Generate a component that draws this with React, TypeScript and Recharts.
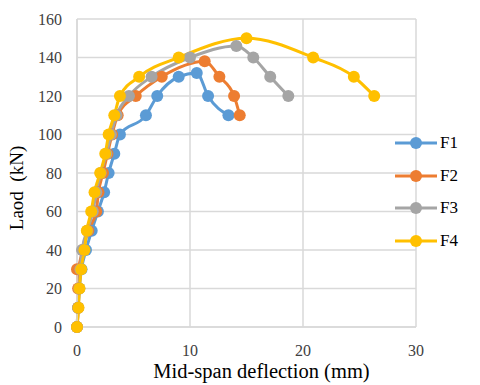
import React from 'react';
import { CartesianGrid, Label, Line, LineChart, XAxis, YAxis } from 'recharts';

// load steps (kN) and mid-span deflections (mm)
const F1_LOAD = [0, 10, 20, 30, 40, 50, 60, 70, 80, 90, 100, 110, 120, 130, 132, 120, 110];
const F1_DEFL = [0, 0.1, 0.2, 0.4, 0.8, 1.3, 1.85, 2.4, 2.8, 3.3, 3.8, 6.1, 7.1, 9.0, 10.6, 11.6, 13.4];

const F2_LOAD = [0, 10, 20, 30, 40, 50, 60, 70, 80, 90, 100, 110, 120, 130, 138, 130, 120, 110];
const F2_DEFL = [0, 0.1, 0.1, 0, 0.5, 1.0, 1.7, 1.9, 2.3, 2.7, 3.1, 3.6, 5.2, 7.5, 11.3, 12.6, 13.9, 14.4];

const F3_LOAD = [0, 10, 20, 30, 40, 50, 60, 70, 80, 90, 100, 110, 120, 130, 140, 146, 140, 130, 120];
const F3_DEFL = [0, 0.1, 0.2, 0.3, 0.45, 0.9, 1.4, 1.7, 2.1, 2.6, 3.0, 3.5, 4.6, 6.6, 10.0, 14.1, 15.6, 17.1, 18.7];

const F4_LOAD = [0, 10, 20, 30, 40, 50, 60, 70, 80, 90, 100, 110, 120, 130, 140, 150, 140, 130, 120];
const F4_DEFL = [0, 0.13, 0.22, 0.37, 0.66, 0.87, 1.26, 1.55, 2.05, 2.5, 2.8, 3.3, 3.8, 5.5, 9.0, 15.0, 20.9, 24.5, 26.3];

const X_TICKS = [0, 10, 20, 30];
const Y_TICKS = [0, 20, 40, 60, 80, 100, 120, 140, 160];

const toPoints = (defl: number[], load: number[]) => defl.map((x, i) => ({ x, y: load[i] }));

const SERIES = [
  { name: 'F1', color: '#5B9BD5', data: toPoints(F1_DEFL, F1_LOAD) },
  { name: 'F2', color: '#ED7D31', data: toPoints(F2_DEFL, F2_LOAD) },
  { name: 'F3', color: '#A5A5A5', data: toPoints(F3_DEFL, F3_LOAD) },
  { name: 'F4', color: '#FFC000', data: toPoints(F4_DEFL, F4_LOAD) },
];

const FONT = '"Liberation Serif", "Times New Roman", serif';

function XTick({ x, y, payload }: any) {
  return (
    <text x={x} y={y + 9} textAnchor="middle" dominantBaseline="central" fill="#404040" fontSize={16} fontFamily={FONT}>
      {payload.value}
    </text>
  );
}

function YTick({ x, y, payload }: any) {
  return (
    <text x={x} y={y} textAnchor="end" dominantBaseline="central" fill="#404040" fontSize={16} fontFamily={FONT}>
      {payload.value}
    </text>
  );
}

function LegendBox() {
  return (
    <div style={{ position: 'absolute', left: 394, top: 127, fontFamily: FONT, fontSize: 17, color: '#000' }}>
      {SERIES.map((s) => (
        <div key={s.name} style={{ display: 'flex', alignItems: 'center', height: 32.5 }}>
          <svg width={44} height={14}>
            <line x1={1} y1={7} x2={43} y2={7} stroke={s.color} strokeWidth={3} />
            <circle cx={22} cy={7} r={6} fill={s.color} />
          </svg>
          <span style={{ marginLeft: 2 }}>{s.name}</span>
        </div>
      ))}
    </div>
  );
}

function YTitle({ viewBox }: any) {
  const cy = viewBox.y + viewBox.height / 2 + 15;
  return (
    <text
      x={16}
      y={cy}
      transform={`rotate(-90 16 ${cy})`}
      textAnchor="middle"
      dominantBaseline="central"
      fill="#000"
      fontSize={19}
      fontFamily={FONT}
    >
      {'Laod\u00a0\u00a0(kN)'}
    </text>
  );
}

function XTitle({ viewBox }: any) {
  const cx = viewBox.x + viewBox.width / 2 + 15;
  return (
    <text x={cx} y={371} textAnchor="middle" dominantBaseline="central" fill="#000" fontSize={20.5} fontFamily={FONT}>
      Mid-span deflection (mm)
    </text>
  );
}

export default function App() {
  return (
    <div style={{ position: 'absolute', left: 0, top: 0, width: 480, height: 385, background: '#fff', fontFamily: FONT }}>
      <LineChart width={480} height={385} margin={{ top: 19, right: 64, bottom: 28, left: 0 }}>
        <CartesianGrid stroke="#d9d9d9" strokeWidth={1.5} />
        <XAxis
          type="number"
          dataKey="x"
          height={30}
          domain={[0, 30]}
          ticks={X_TICKS}
          stroke="#d9d9d9"
          strokeWidth={1.5}
          tickLine={false}
          tickSize={0}
          tickMargin={14}
          tick={XTick}
        >
          <Label content={XTitle} />
        </XAxis>
        <YAxis
          type="number"
          dataKey="y"
          width={77}
          domain={[0, 160]}
          ticks={Y_TICKS}
          stroke="#d9d9d9"
          strokeWidth={1.5}
          tickLine={false}
          tickSize={0}
          tickMargin={15}
          tick={YTick}
        >
          <Label content={YTitle} />
        </YAxis>
        {SERIES.map((s) => (
          <Line
            key={s.name}
            data={s.data}
            dataKey="y"
            name={s.name}
            type="monotone"
            stroke={s.color}
            strokeWidth={3}
            dot={{ r: 6, fill: s.color, stroke: s.color, strokeWidth: 0 }}
            activeDot={false}
            isAnimationActive={false}
          />
        ))}
      </LineChart>
      <LegendBox />
    </div>
  );
}
